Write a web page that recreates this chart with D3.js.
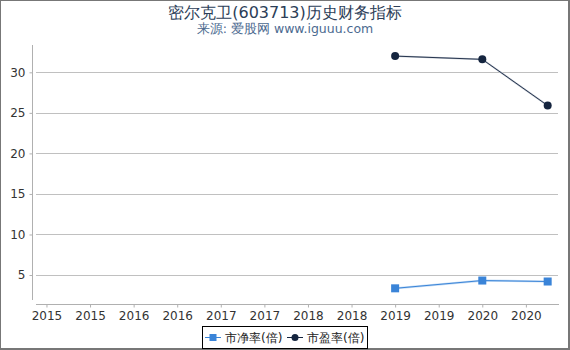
<!DOCTYPE html>
<html>
<head>
<meta charset="utf-8">
<script src="https://cdn.jsdelivr.net/npm/d3@7"></script>
<style>
    body { margin: 0; background: #fff; }
    text { font-family: "DejaVu Sans", sans-serif; }
</style>
</head>
<body>
<div id="chart"></div>
<script>
(function () {
    // data (x = fractional year)
    var dates = [2019.0, 2020.0, 2020.75];
    var pbValues = [3.36, 4.32, 4.2];
    var peValues = [32.0, 31.6, 25.9];
    var seriesNames = ["市净率(倍)", "市盈率(倍)"];
    var yTicks = [5, 10, 15, 20, 25, 30];
    var xTicks = [2015, 2015.5, 2016, 2016.5, 2017, 2017.5, 2018, 2018.5, 2019, 2019.5, 2020, 2020.5];

    var width = 570, height = 350;
    var pbColor = "#3a84d8", peColor = "#15253f";

    var svg = d3.select("#chart").append("svg")
        .attr("width", width)
        .attr("height", height);

    // outer frame
    svg.append("rect")
        .attr("x", 0.5).attr("y", 0.5)
        .attr("width", width - 2).attr("height", height - 2)
        .attr("fill", "none")
        .attr("stroke", "#777")
        .attr("stroke-width", 1);
    svg.append("line").attr("x1", 569).attr("x2", 569).attr("y1", 0).attr("y2", 350)
        .attr("stroke", "#777").attr("stroke-width", 2);
    svg.append("line").attr("x1", 0).attr("x2", 570).attr("y1", 349).attr("y2", 349)
        .attr("stroke", "#777").attr("stroke-width", 2);

    // titles
    svg.append("text")
        .attr("x", 285).attr("y", 18)
        .attr("text-anchor", "middle")
        .style("font-size", "16px")
        .attr("fill", "#2c3e58")
        .text("密尔克卫(603713)历史财务指标");
    svg.append("text")
        .attr("x", 285).attr("y", 33)
        .attr("text-anchor", "middle")
        .style("font-size", "12.5px")
        .attr("fill", "#4c6a90")
        .text("来源: 爱股网 www.iguuu.com");

    var x = d3.scaleLinear().domain([2014.88, 2020.88]).range([36, 559]);
    var y = d3.scaleLinear().domain([1.92, 33.37]).range([300, 45]);

    // grid lines
    svg.append("g").selectAll("line")
        .data(yTicks)
        .enter().append("line")
        .attr("x1", 36).attr("x2", 558)
        .attr("y1", function (d) { return Math.round(y(d)) + 0.5; })
        .attr("y2", function (d) { return Math.round(y(d)) + 0.5; })
        .attr("stroke", "#c0c0c0");

    // y axis
    var yAxis = d3.axisLeft(y).tickValues(yTicks).tickSize(3).tickPadding(4);
    var yg = svg.append("g")
        .attr("transform", "translate(32.5,0)")
        .call(yAxis);
    yg.select(".domain").attr("d", "M0,45V300").attr("stroke", "#b0b0b0");
    yg.selectAll(".tick line").attr("stroke", "#b0b0b0");
    yg.selectAll("text").style("font-size", "12px").attr("fill", "#333")
        .style("font-family", "DejaVu Sans, sans-serif");

    // x axis
    var xAxis = d3.axisBottom(x).tickValues(xTicks).tickSize(3).tickPadding(4)
        .tickFormat(function (d) { return Math.floor(d); });
    var xg = svg.append("g")
        .attr("transform", "translate(0,304.5)")
        .call(xAxis);
    xg.select(".domain").attr("d", "M36,0H559").attr("stroke", "#b0b0b0");
    xg.selectAll(".tick line").attr("stroke", "#b0b0b0");
    xg.selectAll("text").style("font-size", "12px").attr("fill", "#333")
        .style("font-family", "DejaVu Sans, sans-serif");

    var line = d3.line()
        .x(function (d) { return x(d[0]); })
        .y(function (d) { return y(d[1]); });

    var pbData = d3.zip(dates, pbValues);
    var peData = d3.zip(dates, peValues);

    // PB series
    svg.append("path").datum(pbData)
        .attr("d", line).attr("fill", "none")
        .attr("stroke", "#c4dcf5").attr("stroke-width", 2.2);
    svg.append("path").datum(pbData)
        .attr("d", line).attr("fill", "none")
        .attr("stroke", pbColor).attr("stroke-width", 1);
    svg.append("g").selectAll("rect")
        .data(pbData)
        .enter().append("rect")
        .attr("x", function (d) { return x(d[0]) - 4; })
        .attr("y", function (d) { return y(d[1]) - 4; })
        .attr("width", 8).attr("height", 8)
        .attr("fill", pbColor);

    // PE series
    svg.append("path").datum(peData)
        .attr("d", line).attr("fill", "none")
        .attr("stroke", "#c2c8d2").attr("stroke-width", 1.8);
    svg.append("path").datum(peData)
        .attr("d", line).attr("fill", "none")
        .attr("stroke", peColor).attr("stroke-width", 0.9);
    svg.append("g").selectAll("circle")
        .data(peData)
        .enter().append("circle")
        .attr("cx", function (d) { return x(d[0]); })
        .attr("cy", function (d) { return y(d[1]); })
        .attr("r", 4)
        .attr("fill", peColor);

    // legend
    var legend = svg.append("g");
    legend.append("rect")
        .attr("x", 202.5).attr("y", 326.5)
        .attr("width", 165).attr("height", 22)
        .attr("fill", "#fff")
        .attr("stroke", "#000");
    var items = legend.selectAll(".item")
        .data(seriesNames)
        .enter().append("g")
        .attr("transform", function (d, i) { return "translate(" + (205 + i * 82) + ",337.5)"; });
    items.append("line")
        .attr("x1", 0).attr("x2", 16)
        .attr("stroke", function (d, i) { return i === 0 ? pbColor : peColor; });
    items.each(function (d, i) {
        var g = d3.select(this);
        if (i === 0) {
            g.append("rect").attr("x", 4.5).attr("y", -3.5).attr("width", 7).attr("height", 7).attr("fill", pbColor);
        } else {
            g.append("circle").attr("cx", 8).attr("cy", 0).attr("r", 3.5).attr("fill", peColor);
        }
    });
    items.append("text")
        .attr("x", 20).attr("y", 4.5)
        .style("font-size", "12px")
        .attr("fill", "#222")
        .text(function (d) { return d; });
})();
</script>
</body>
</html>
